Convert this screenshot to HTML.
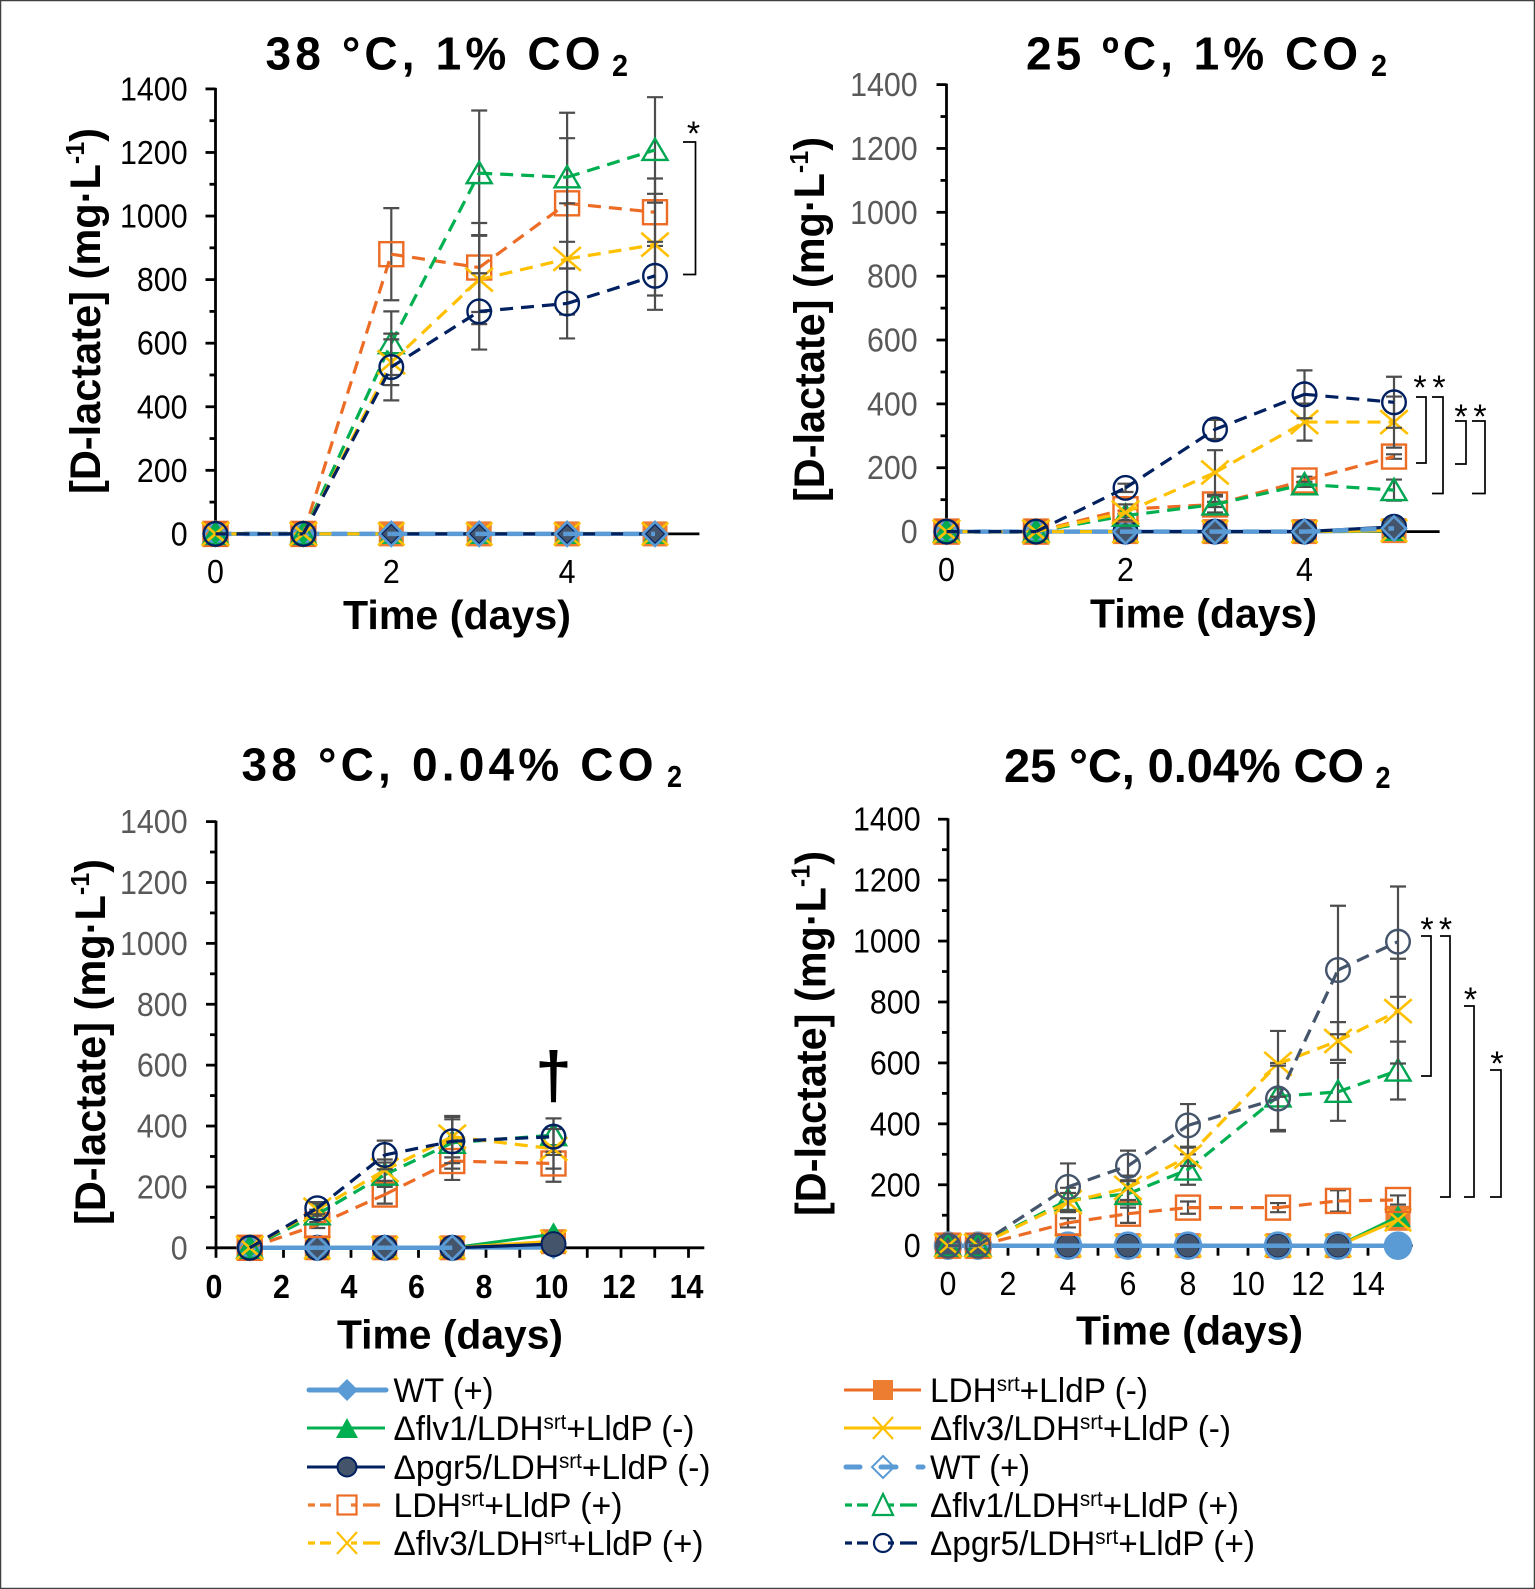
<!DOCTYPE html>
<html>
<head>
<meta charset="utf-8">
<title>D-lactate time courses</title>
<style>
html,body{margin:0;padding:0;background:#fff}
svg{display:block}
text{font-family:"Liberation Sans",sans-serif}
.title{font-weight:bold;font-size:46px;fill:#000}
.titlesub{font-weight:bold;font-size:31px;fill:#000}
.axt{font-weight:bold;font-size:41px;fill:#000}
.ayt{font-weight:bold;font-size:43px;fill:#000}
.leg{font-size:34px;fill:#000}
.sup{font-size:21px}
.star{font-size:34px;fill:#000}
</style>
</head>
<body>
<svg id="fig" xmlns="http://www.w3.org/2000/svg" width="1535" height="1589" viewBox="0 0 1535 1589">
<rect x="0.5" y="0.5" width="1534" height="1588" fill="#fff" stroke="#404040" stroke-width="1.5"/>

<text class="title" x="265.5" y="69.4" textLength="335" lengthAdjust="spacing">38 °C, 1% CO</text>
<text class="titlesub" x="612" y="76" textLength="16" lengthAdjust="spacingAndGlyphs">2</text>
<text class="title" x="1026" y="69.4" textLength="332" lengthAdjust="spacing">25 ºC, 1% CO</text>
<text class="titlesub" x="1371" y="76" textLength="16" lengthAdjust="spacingAndGlyphs">2</text>
<text class="title" x="241.5" y="780.4" textLength="412" lengthAdjust="spacing">38 °C, 0.04% CO</text>
<text class="titlesub" x="667" y="787" textLength="15" lengthAdjust="spacingAndGlyphs">2</text>
<text class="title" x="1004" y="782" textLength="360" lengthAdjust="spacing" style="font-size:47px">25 °C, 0.04% CO</text>
<text class="titlesub" x="1375.5" y="788" textLength="15" lengthAdjust="spacingAndGlyphs">2</text>

<text class="axt" x="343" y="629" textLength="228" lengthAdjust="spacingAndGlyphs">Time (days)</text>
<text class="axt" x="1090" y="627.5" textLength="227" lengthAdjust="spacingAndGlyphs">Time (days)</text>
<text class="axt" x="337" y="1348.6" textLength="226" lengthAdjust="spacingAndGlyphs">Time (days)</text>
<text class="axt" x="1076" y="1344.5" textLength="227" lengthAdjust="spacingAndGlyphs">Time (days)</text>

<text class="ayt" transform="translate(100,494) rotate(-90)" textLength="366" lengthAdjust="spacingAndGlyphs">[D-lactate] (mg·L<tspan font-size="26" dy="-16">-1</tspan><tspan dy="16">)</tspan></text>
<text class="ayt" transform="translate(824,502) rotate(-90)" textLength="365" lengthAdjust="spacingAndGlyphs">[D-lactate] (mg·L<tspan font-size="26" dy="-16">-1</tspan><tspan dy="16">)</tspan></text>
<text class="ayt" transform="translate(105,1225) rotate(-90)" textLength="366" lengthAdjust="spacingAndGlyphs">[D-lactate] (mg·L<tspan font-size="26" dy="-16">-1</tspan><tspan dy="16">)</tspan></text>
<text class="ayt" transform="translate(825.7,1216) rotate(-90)" textLength="365" lengthAdjust="spacingAndGlyphs">[D-lactate] (mg·L<tspan font-size="26" dy="-16">-1</tspan><tspan dy="16">)</tspan></text>

<g id="plots"></g>

<g fill="none" stroke="#000" stroke-width="1.7">
<path d="M683 142H695.5V274.5H683"/>
<path d="M1416 397H1426V463H1416"/>
<path d="M1432 397H1443V493.5H1432"/>
<path d="M1455 421H1466V464H1455"/>
<path d="M1472 421H1485V493.5H1472"/>
<path d="M1421 936H1431V1076H1421"/>
<path d="M1440 936H1450V1197H1440"/>
<path d="M1464 1006H1474V1197H1464"/>
<path d="M1490 1070H1501V1197H1490"/>
</g>
<g text-anchor="middle">
<text class="star" x="693.5" y="145">*</text>
<text class="star" x="1420" y="399">*</text>
<text class="star" x="1439" y="399">*</text>
<text class="star" x="1461" y="428">*</text>
<text class="star" x="1480" y="428">*</text>
<text class="star" x="1427" y="941">*</text>
<text class="star" x="1445.5" y="941">*</text>
<text class="star" x="1470.5" y="1011">*</text>
<text class="star" x="1497" y="1075">*</text>
<text x="553.5" y="1098" font-size="66" font-weight="bold" fill="#000">†</text>
</g>

<g>
<g>
<line x1="309" x2="386" y1="1390" y2="1390" stroke="#5B9BD5" stroke-width="5" stroke-linecap="round"/>
<path d="M347 1379L358 1390L347 1401L336 1390Z" fill="#5B9BD5"/>
<text class="leg" x="393.5" y="1402" textLength="100" lengthAdjust="spacingAndGlyphs">WT (+)</text></g>
<g>
<line x1="307" x2="385" y1="1428" y2="1428" stroke="#00B050" stroke-width="3"/>
<path d="M347 1418L358 1438H336Z" fill="#00B050"/>
<text class="leg" x="393.5" y="1440" textLength="301" lengthAdjust="spacingAndGlyphs">Δflv1/LDH<tspan class="sup" dy="-11">srt</tspan><tspan dy="11">+LldP (-)</tspan></text></g>
<g>
<line x1="307" x2="385" y1="1467" y2="1467" stroke="#002060" stroke-width="3"/>
<circle cx="347" cy="1467" r="9.5" fill="#44546A" stroke="#002060" stroke-width="2"/>
<text class="leg" x="393.5" y="1479" textLength="317" lengthAdjust="spacingAndGlyphs">Δpgr5/LDH<tspan class="sup" dy="-11">srt</tspan><tspan dy="11">+LldP (-)</tspan></text></g>
<g>
<line x1="308" x2="380" y1="1505" y2="1505" stroke="#ED7D31" stroke-width="3.2" stroke-dasharray="7 5 11 20 6 6 12 0"/>
<rect x="337.5" y="1495.5" width="19" height="19" fill="none" stroke="#ED6C25" stroke-width="2.2"/>
<text class="leg" x="393.5" y="1517" textLength="229" lengthAdjust="spacingAndGlyphs">LDH<tspan class="sup" dy="-11">srt</tspan><tspan dy="11">+LldP (+)</tspan></text></g>
<g>
<line x1="308" x2="380" y1="1543" y2="1543" stroke="#FFC000" stroke-width="3.2" stroke-dasharray="7 5 11 20 6 6 12 0"/>
<path d="M337 1532L357 1554M357 1532L337 1554" stroke="#FFC000" stroke-width="2.2" fill="none"/>
<text class="leg" x="393.5" y="1555" textLength="310" lengthAdjust="spacingAndGlyphs">Δflv3/LDH<tspan class="sup" dy="-11">srt</tspan><tspan dy="11">+LldP (+)</tspan></text></g>

<g>
<line x1="844" x2="921" y1="1390" y2="1390" stroke="#ED6C25" stroke-width="3"/>
<rect x="873" y="1380" width="20" height="20" fill="#ED7D31"/>
<text class="leg" x="930" y="1402" textLength="218" lengthAdjust="spacingAndGlyphs">LDH<tspan class="sup" dy="-11">srt</tspan><tspan dy="11">+LldP (-)</tspan></text></g>
<g>
<line x1="844" x2="921" y1="1428" y2="1428" stroke="#FFC000" stroke-width="3"/>
<path d="M873 1417L893 1439M893 1417L873 1439" stroke="#FFC000" stroke-width="2.2" fill="none"/>
<text class="leg" x="930" y="1440" textLength="301" lengthAdjust="spacingAndGlyphs">Δflv3/LDH<tspan class="sup" dy="-11">srt</tspan><tspan dy="11">+LldP (-)</tspan></text></g>
<g>
<line x1="846" x2="923" y1="1467" y2="1467" stroke="#5B9BD5" stroke-width="5" stroke-dasharray="14 58 4 0" stroke-linecap="round"/>
<path d="M883 1456L894 1467L883 1478L872 1467Z" fill="#fff" stroke="#5B9BD5" stroke-width="2"/>
<line x1="881" x2="896" y1="1467" y2="1467" stroke="#5B9BD5" stroke-width="5" stroke-linecap="round"/>
<text class="leg" x="930" y="1479" textLength="100" lengthAdjust="spacingAndGlyphs">WT (+)</text></g>
<g>
<line x1="845" x2="917" y1="1505" y2="1505" stroke="#00B050" stroke-width="3.2" stroke-dasharray="7 5 11 20 6 6 12 0"/>
<path d="M883 1494L893 1515H873Z" fill="none" stroke="#00A651" stroke-width="2.2"/>
<text class="leg" x="930" y="1517" textLength="309" lengthAdjust="spacingAndGlyphs">Δflv1/LDH<tspan class="sup" dy="-11">srt</tspan><tspan dy="11">+LldP (+)</tspan></text></g>
<g>
<line x1="845" x2="917" y1="1543" y2="1543" stroke="#002060" stroke-width="3.2" stroke-dasharray="7 5 11 20 6 6 12 0"/>
<circle cx="883" cy="1543" r="9" fill="none" stroke="#002060" stroke-width="2.2"/>
<text class="leg" x="930" y="1555" textLength="325" lengthAdjust="spacingAndGlyphs">Δpgr5/LDH<tspan class="sup" dy="-11">srt</tspan><tspan dy="11">+LldP (+)</tspan></text></g>
</g>
</svg>

<script>
const yTickLabels = [0, 200, 400, 600, 800, 1000, 1200, 1400];
const yMinorTicks = [100, 300, 500, 700, 900, 1100, 1300];

// Panel 1: 38 C, 1% CO2
const p1Days = [0, 1, 2, 3, 4, 5];
const p1XTicks = [0, 2, 4];
const p1WtMinus = [0, 0, 0, 0, 0, 0];
const p1LdhMinus = [0, 0, 0, 0, 0, 0];
const p1Flv1Minus = [0, 0, 0, 0, 0, 0];
const p1Flv3Minus = [0, 0, 0, 0, 0, 0];
const p1Pgr5Minus = [null, null, 0, 0, 0, 0];
const p1WtPlus = [0, 0, 0, 0, 0, 0];
const p1LdhPlus = [0, 0, 880, 838, 1040, 1012];
const p1Flv1Plus = [0, 0, 600, 1135, 1122, 1208];
const p1Flv3Plus = [0, 0, 540, 800, 865, 910];
const p1Pgr5Plus = [0, 0, 525, 700, 725, 812];
const p1LdhErr = [0, 0, 145, 140, 205, 106];
const p1Flv1Err = [0, 0, 100, 197, 203, 166];
const p1Flv3Err = [0, 0, 72, 140, 175, 160];
const p1Pgr5Err = [0, 0, 105, 120, 110, 107];

// Panel 2: 25 C, 1% CO2
const p2Days = [0, 1, 2, 3, 4, 5];
const p2XTicks = [0, 2, 4];
const p2WtMinus = [0, 0, 0, 0, 0, 3];
const p2LdhMinus = [0, 0, 0, 0, 0, 3];
const p2Flv1Minus = [0, 0, 0, 0, 0, 2];
const p2Flv3Minus = [0, 0, 0, 0, 0, 3];
const p2Pgr5Minus = [null, null, 0, 0, 0, 15];
const p2WtPlus = [0, 0, 0, 0, 0, 10];
const p2LdhPlus = [0, 0, 70, 85, 160, 235];
const p2Flv1Plus = [0, 0, 50, 85, 148, 130];
const p2Flv3Plus = [0, 0, 60, 185, 343, 343];
const p2Pgr5Plus = [0, 0, 137, 320, 430, 405];
const p2LdhErr = [0, 0, 15, 8, 12, 7];
const p2Flv1Err = [0, 0, 5, 25, 8, 33];
const p2Flv3Err = [0, 0, 25, 70, 58, 80];
const p2Pgr5Err = [0, 0, 13, 30, 75, 80];

// Panel 3: 38 C, 0.04% CO2
const p3Days = [1, 3, 5, 7, 10];
const p3XTicks = [0, 2, 4, 6, 8, 10, 12, 14];
const p3WtMinus = [0, 0, 0, 0, 0];
const p3LdhMinus = [0, 0, 0, 0, 20];
const p3Flv1Minus = [0, 0, 0, 0, 45];
const p3Flv3Minus = [0, 0, 0, 0, 22];
const p3Pgr5Minus = [null, 0, 0, 0, 12];
const p3WtPlus = [0, 0, 0, 0, null];
const p3LdhPlus = [0, 75, 175, 285, 277];
const p3Flv1Plus = [0, 110, 240, 345, 370];
const p3Flv3Plus = [0, 125, 255, 365, 325];
const p3Pgr5Plus = [0, 130, 305, 350, 365];
const p3LdhErr = [0, 10, 30, 62, 60];
const p3Flv1Err = [0, 15, 40, 85, 55];
const p3Flv3Err = [0, 20, 35, 68, 65];
const p3Pgr5Err = [0, 20, 47, 72, 60];

// Panel 4: 25 C, 0.04% CO2
const p4Days = [0, 1, 4, 6, 8, 11, 13, 15];
const p4XTicks = [0, 2, 4, 6, 8, 10, 12, 14];
const p4WtMinus = [null, null, null, null, null, null, null, 0];
const p4LdhMinus = [0, 0, 0, 0, 0, 0, 0, 90];
const p4Flv1Minus = [0, 0, 0, 0, 0, 0, 0, 95];
const p4Flv3Minus = [0, 0, 0, 0, 0, 0, 0, 85];
const p4Pgr5Minus = [0, 0, 0, 0, 0, 0, 0, null];
const p4WtPlus = [0, 0, 0, 0, 0, 0, 0, 0];
const p4LdhPlus = [0, 0, 75, 105, 125, 125, 147, 150];
const p4Flv1Plus = [0, 0, 150, 170, 250, 490, 505, 575];
const p4Flv3Plus = [0, 0, 143, 190, 292, 597, 672, 770];
const p4Pgr5Plus = [0, 0, 193, 262, 395, 483, 905, 998];
const p4LdhErr = [0, 0, 15, 30, 20, 15, 35, 15];
const p4Flv1Err = [0, 0, 40, 45, 50, 110, 95, 95];
const p4Flv3Err = [0, 0, 30, 40, 30, 108, 62, 172];
const p4Pgr5Err = [0, 0, 77, 50, 70, 108, 211, 181];

const NS = 'http://www.w3.org/2000/svg';
const plots = document.getElementById('plots');

function mk(parent, tag, attrs) {
  const el = document.createElementNS(NS, tag);
  for (const k in attrs) el.setAttribute(k, attrs[k]);
  parent.appendChild(el);
  return el;
}

function drawMarker(parent, shape, cx, cy, r, fill, stroke, sw) {
  let el;
  if (shape === 'square') {
    el = mk(parent, 'rect', {x: cx - r, y: cy - r, width: 2 * r, height: 2 * r, fill: fill, stroke: stroke, 'stroke-width': sw});
  } else if (shape === 'triangle') {
    el = mk(parent, 'path', {d: 'M' + cx + ' ' + (cy - 0.9 * r) + 'L' + (cx + r) + ' ' + (cy + 0.8 * r) + 'H' + (cx - r) + 'Z', fill: fill, stroke: stroke, 'stroke-width': sw});
  } else if (shape === 'diamond') {
    el = mk(parent, 'path', {d: 'M' + cx + ' ' + (cy - r) + 'L' + (cx + r) + ' ' + cy + 'L' + cx + ' ' + (cy + r) + 'L' + (cx - r) + ' ' + cy + 'Z', fill: fill, stroke: stroke, 'stroke-width': sw});
  } else if (shape === 'circle') {
    el = mk(parent, 'circle', {cx: cx, cy: cy, r: r, fill: fill, stroke: stroke, 'stroke-width': sw});
  } else {
    const rx = r * 1.1;
    const ry = r * 0.95;
    el = mk(parent, 'path', {d: 'M' + (cx - rx) + ' ' + (cy - ry) + 'L' + (cx + rx) + ' ' + (cy + ry) + 'M' + (cx + rx) + ' ' + (cy - ry) + 'L' + (cx - rx) + ' ' + (cy + ry), fill: 'none', stroke: stroke, 'stroke-width': sw});
  }
  
  
}

function drawSeries(parent, s, days, X, Y) {
  const g = mk(parent, 'g', {});
  
  
  if (s.err) {
    days.forEach(function (d, i) {
      if (s.values[i] === null || !s.err[i]) return;
      const hi = Y(s.values[i] + s.err[i]);
      const lo = Y(s.values[i] - s.err[i]);
      const eb = mk(g, 'path', {d: 'M' + X(d) + ' ' + hi + 'V' + lo + 'M' + (X(d) - 8) + ' ' + hi + 'H' + (X(d) + 8) + 'M' + (X(d) - 8) + ' ' + lo + 'H' + (X(d) + 8), fill: 'none', stroke: '#4d4d4d', 'stroke-width': 2.2});
      
      
    });
  }
  for (let i = 1; i < days.length; i++) {
    if (s.values[i] === null || s.values[i - 1] === null) continue;
    const attrs = {x1: X(days[i - 1]), y1: Y(s.values[i - 1]), x2: X(days[i]), y2: Y(s.values[i]), stroke: s.color, 'stroke-width': s.width};
    if (s.dash) attrs['stroke-dasharray'] = s.dash;
    const seg = mk(g, 'line', attrs);
    
    
  }
  days.forEach(function (d, i) {
    if (s.values[i] === null) return;
    drawMarker(g, s.shape, X(d), Y(s.values[i]), s.r, s.fill, s.stroke, s.sw);
  });
}

function drawPanel(p) {
  const g = mk(plots, 'g', {});
  
  
  const X = function (d) { return p.x0 + d * p.dayPx; };
  const Y = function (v) { return p.y0 - v * (p.y0 - p.y1400) / 1400; };
  const axes = mk(g, 'g', {stroke: '#000', 'stroke-width': 2.8});
  
  
  const yAxis = mk(axes, 'line', {x1: p.x0, x2: p.x0, y1: Y(1400) - 1, y2: p.y0 + 1});
  
  
  const xAxis = mk(axes, 'line', {x1: p.x0, x2: p.xEnd, y1: p.y0, y2: p.y0});
  
  
  yTickLabels.forEach(function (v) {
    const t = mk(axes, 'line', {x1: p.x0 - 10, x2: p.x0, y1: Y(v), y2: Y(v)});
    
    
    const s = String(v);
    const lab = mk(g, 'text', {x: p.yLabelX, y: Y(v) + 11.5, 'text-anchor': 'end', 'font-size': 33.5, fill: p.yColor, stroke: 'none', textLength: s.length * 16.9, lengthAdjust: 'spacingAndGlyphs'});
    lab.textContent = s;
    
    
  });
  yMinorTicks.forEach(function (v) {
    const t = mk(axes, 'line', {x1: p.x0 - 6, x2: p.x0, y1: Y(v), y2: Y(v)});
    
    
  });
  if (p.dayTicks) {
    for (let d = 0; d <= 14; d++) {
      const t = mk(axes, 'line', {x1: X(d), x2: X(d), y1: p.y0, y2: p.y0 + 10});
      
      
    }
  }
  p.xTicks.forEach(function (d) {
    const s = String(d);
    const lab = mk(g, 'text', {x: X(d) - (p.xShift || 0), y: p.xLabelY, 'text-anchor': 'middle', 'font-size': 33.5, 'font-weight': p.xBold ? 'bold' : 'normal', fill: '#000', textLength: s.length * 16.9, lengthAdjust: 'spacingAndGlyphs'});
    lab.textContent = s;
    
    
  });
  p.series.forEach(function (s) { drawSeries(g, s, p.days, X, Y); });
}

function styles(v, opts) {
  const thin = '13 8';
  return [
    {name: 'series-wt-minus', values: v.wtM, color: '#5B9BD5', width: 4, shape: opts.wtMinusShape || 'diamond', r: opts.wtMinusR || 11, fill: '#5B9BD5', stroke: '#5B9BD5', sw: 1},
    {name: 'series-ldh-minus', values: v.ldhM, color: '#ED6C25', width: 3, shape: 'square', r: 12, fill: '#ED7D31', stroke: '#ED7D31', sw: 1},
    {name: 'series-flv1-minus', values: v.flv1M, color: '#00B050', width: 3, shape: 'triangle', r: 12, fill: '#00B050', stroke: '#00B050', sw: 1},
    {name: 'series-flv3-minus', values: v.flv3M, color: '#FFC000', width: 3, shape: 'x', r: 12, fill: 'none', stroke: '#FFC000', sw: 2.6},
    {name: 'series-pgr5-minus', values: v.pgrM, color: '#002060', width: 3.2, shape: opts.pgrMinusShape || 'circle', r: opts.pgrMinusR || 12, fill: '#44546A', stroke: '#002060', sw: 2},
    {name: 'series-wt-plus', values: v.wtP, color: '#5B9BD5', width: 4.5, dash: opts.wtSolid ? null : '16 12', shape: opts.wtPlusShape || 'diamond', r: opts.wtPlusR || 12, fill: 'none', stroke: '#5B9BD5', sw: 2.6},
    {name: 'series-ldh-plus', values: v.ldhP, err: v.ldhE, color: '#ED6C25', width: 3.2, dash: thin, shape: 'square', r: 12, fill: 'none', stroke: '#ED6C25', sw: 2.4},
    {name: 'series-flv1-plus', values: v.flv1P, err: v.flv1E, color: '#00B050', width: 3.2, dash: thin, shape: 'triangle', r: 12.5, fill: 'none', stroke: '#00A651', sw: 2.4},
    {name: 'series-flv3-plus', values: v.flv3P, err: v.flv3E, color: '#FFC000', width: 3.2, dash: thin, shape: 'x', r: 12.5, fill: 'none', stroke: '#FFC000', sw: 2.6},
    {name: 'series-pgr5-plus', values: v.pgrP, err: v.pgrE, color: opts.pgrPlusColor || '#002060', width: 3.2, dash: thin, shape: 'circle', r: 11.8, fill: 'none', stroke: opts.pgrPlusColor || '#002060', sw: 2.4}
  ];
}

drawPanel({name: 'panel-38c-1pct', x0: 215.5, dayPx: 87.9, y0: 533.9, y1400: 88.9, xEnd: 699.4, yLabelX: 187.6, yColor: '#000', xLabelY: 583, days: p1Days, xTicks: p1XTicks,
  series: styles({wtM: p1WtMinus, ldhM: p1LdhMinus, flv1M: p1Flv1Minus, flv3M: p1Flv3Minus, pgrM: p1Pgr5Minus, wtP: p1WtPlus, ldhP: p1LdhPlus, flv1P: p1Flv1Plus, flv3P: p1Flv3Plus, pgrP: p1Pgr5Plus, ldhE: p1LdhErr, flv1E: p1Flv1Err, flv3E: p1Flv3Err, pgrE: p1Pgr5Err}, {pgrMinusShape: 'diamond', pgrMinusR: 10})});
drawPanel({name: 'panel-25c-1pct', x0: 946.5, dayPx: 89.5, y0: 531.6, y1400: 84.6, xEnd: 1439.6, yLabelX: 917.7, yColor: '#595959', xLabelY: 581, days: p2Days, xTicks: p2XTicks,
  series: styles({wtM: p2WtMinus, ldhM: p2LdhMinus, flv1M: p2Flv1Minus, flv3M: p2Flv3Minus, pgrM: p2Pgr5Minus, wtP: p2WtPlus, ldhP: p2LdhPlus, flv1P: p2Flv1Plus, flv3P: p2Flv3Plus, pgrP: p2Pgr5Plus, ldhE: p2LdhErr, flv1E: p2Flv1Err, flv3E: p2Flv3Err, pgrE: p2Pgr5Err}, {})});
drawPanel({name: 'panel-38c-004pct', x0: 216, dayPx: 33.75, y0: 1247.8, y1400: 821.6, xEnd: 704.3, yLabelX: 187.6, yColor: '#595959', xLabelY: 1298, dayTicks: true, xBold: true, xShift: 2, days: p3Days, xTicks: p3XTicks,
  series: styles({wtM: p3WtMinus, ldhM: p3LdhMinus, flv1M: p3Flv1Minus, flv3M: p3Flv3Minus, pgrM: p3Pgr5Minus, wtP: p3WtPlus, ldhP: p3LdhPlus, flv1P: p3Flv1Plus, flv3P: p3Flv3Plus, pgrP: p3Pgr5Plus, ldhE: p3LdhErr, flv1E: p3Flv1Err, flv3E: p3Flv3Err, pgrE: p3Pgr5Err}, {wtSolid: true})});
drawPanel({name: 'panel-25c-004pct', x0: 948, dayPx: 30, y0: 1245.7, y1400: 819.2, xEnd: 1412.7, yLabelX: 920.6, yColor: '#000', xLabelY: 1295, dayTicks: true, days: p4Days, xTicks: p4XTicks,
  series: styles({wtM: p4WtMinus, ldhM: p4LdhMinus, flv1M: p4Flv1Minus, flv3M: p4Flv3Minus, pgrM: p4Pgr5Minus, wtP: p4WtPlus, ldhP: p4LdhPlus, flv1P: p4Flv1Plus, flv3P: p4Flv3Plus, pgrP: p4Pgr5Plus, ldhE: p4LdhErr, flv1E: p4Flv1Err, flv3E: p4Flv3Err, pgrE: p4Pgr5Err}, {wtSolid: true, wtMinusShape: 'circle', wtMinusR: 13, wtPlusShape: 'circle', wtPlusR: 13, pgrPlusColor: '#44546A'})});
</script>
</body>
</html>
